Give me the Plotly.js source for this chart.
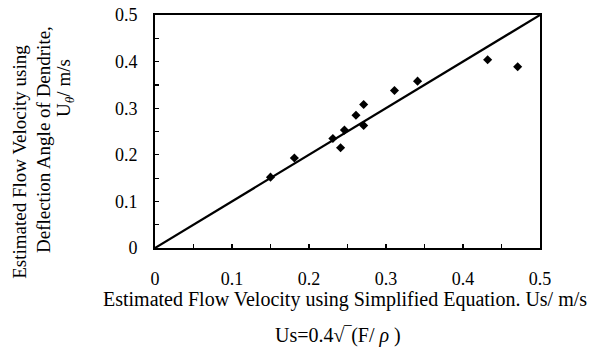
<!DOCTYPE html>
<html>
<head>
<meta charset="utf-8">
<script src="https://cdn.plot.ly/plotly-3.0.1.min.js"></script>
<style>html,body{margin:0;padding:0;background:#fff;}#chart{width:590px;height:347px;}</style>
</head>
<body>
<div id="chart"></div>
<script>
// Data
const usSimplified = [0.150, 0.181, 0.231, 0.241, 0.246, 0.261, 0.271, 0.271, 0.311, 0.341, 0.432, 0.471];
const uTheta       = [0.152, 0.193, 0.235, 0.215, 0.253, 0.285, 0.308, 0.263, 0.338, 0.358, 0.404, 0.389];
const lineX = [0, 0.5];
const lineY = [0, 0.5];
const tickVals = [0, 0.1, 0.2, 0.3, 0.4, 0.5];
const tickText = ['0', '0.1', '0.2', '0.3', '0.4', '0.5'];

const serif = 'Liberation Serif, Times New Roman, serif';

const traces = [
  {x: lineX, y: lineY, mode: 'lines', line: {color: '#000', width: 2.2}, hoverinfo: 'skip'},
  {x: usSimplified, y: uTheta, mode: 'markers', marker: {symbol: 'diamond', size: 7, color: '#000'}}
];

const axisCommon = {
  range: [0, 0.5], tickvals: tickVals, ticktext: tickText,
  showgrid: false, zeroline: false, showline: true, linecolor: '#000', linewidth: 2, mirror: true,
  ticks: 'inside', ticklen: 4, tickwidth: 1.2, tickcolor: '#000',
  minor: {ticks: 'inside', dtick: 0.05, ticklen: 4, tickwidth: 1.2, tickcolor: '#000', showgrid: false},
  tickfont: {family: serif, size: 18, color: '#000'}, fixedrange: true
};

const layout = {
  width: 590, height: 347,
  margin: {l: 155, r: 50, t: 15, b: 99},
  paper_bgcolor: '#fff', plot_bgcolor: '#fff',
  showlegend: false,
  xaxis: Object.assign({}, axisCommon, {ticklabelstandoff: 13}),
  yaxis: Object.assign({}, axisCommon, {ticklabelstandoff: 12}),
  annotations: [
    {text: 'Estimated Flow Velocity using Simplified Equation. Us/ m/s', xref: 'paper', yref: 'paper', x: 0.5, y: 0,
     xanchor: 'center', yanchor: 'middle', xshift: -3, yshift: -51, showarrow: false, font: {family: serif, size: 20, color: '#000'}},
    {text: 'Us=0.4√‾(F/ <i>ρ</i> )', xref: 'paper', yref: 'paper', x: 0.5, y: 0,
     xanchor: 'center', yanchor: 'middle', xshift: -10, yshift: -87, showarrow: false, font: {family: serif, size: 20, color: '#000'}},
    {text: 'Estimated Flow Velocity using', xref: 'paper', yref: 'paper', x: 0, y: 0.37, textangle: -90,
     xanchor: 'center', yanchor: 'middle', xshift: -135, showarrow: false, font: {family: serif, size: 19, color: '#000'}},
    {text: 'Deflection Angle of Dendrite,', xref: 'paper', yref: 'paper', x: 0, y: 0.4635, textangle: -90,
     xanchor: 'center', yanchor: 'middle', xshift: -112, showarrow: false, font: {family: serif, size: 19, color: '#000'}},
    {text: 'U<sub><i>θ</i></sub>/ m/s', xref: 'paper', yref: 'paper', x: 0, y: 0.687, textangle: -90,
     xanchor: 'center', yanchor: 'middle', xshift: -90, showarrow: false, font: {family: serif, size: 19, color: '#000'}}
  ]
};

Plotly.newPlot('chart', traces, layout, {displayModeBar: false, staticPlot: true});
</script>
</body>
</html>
